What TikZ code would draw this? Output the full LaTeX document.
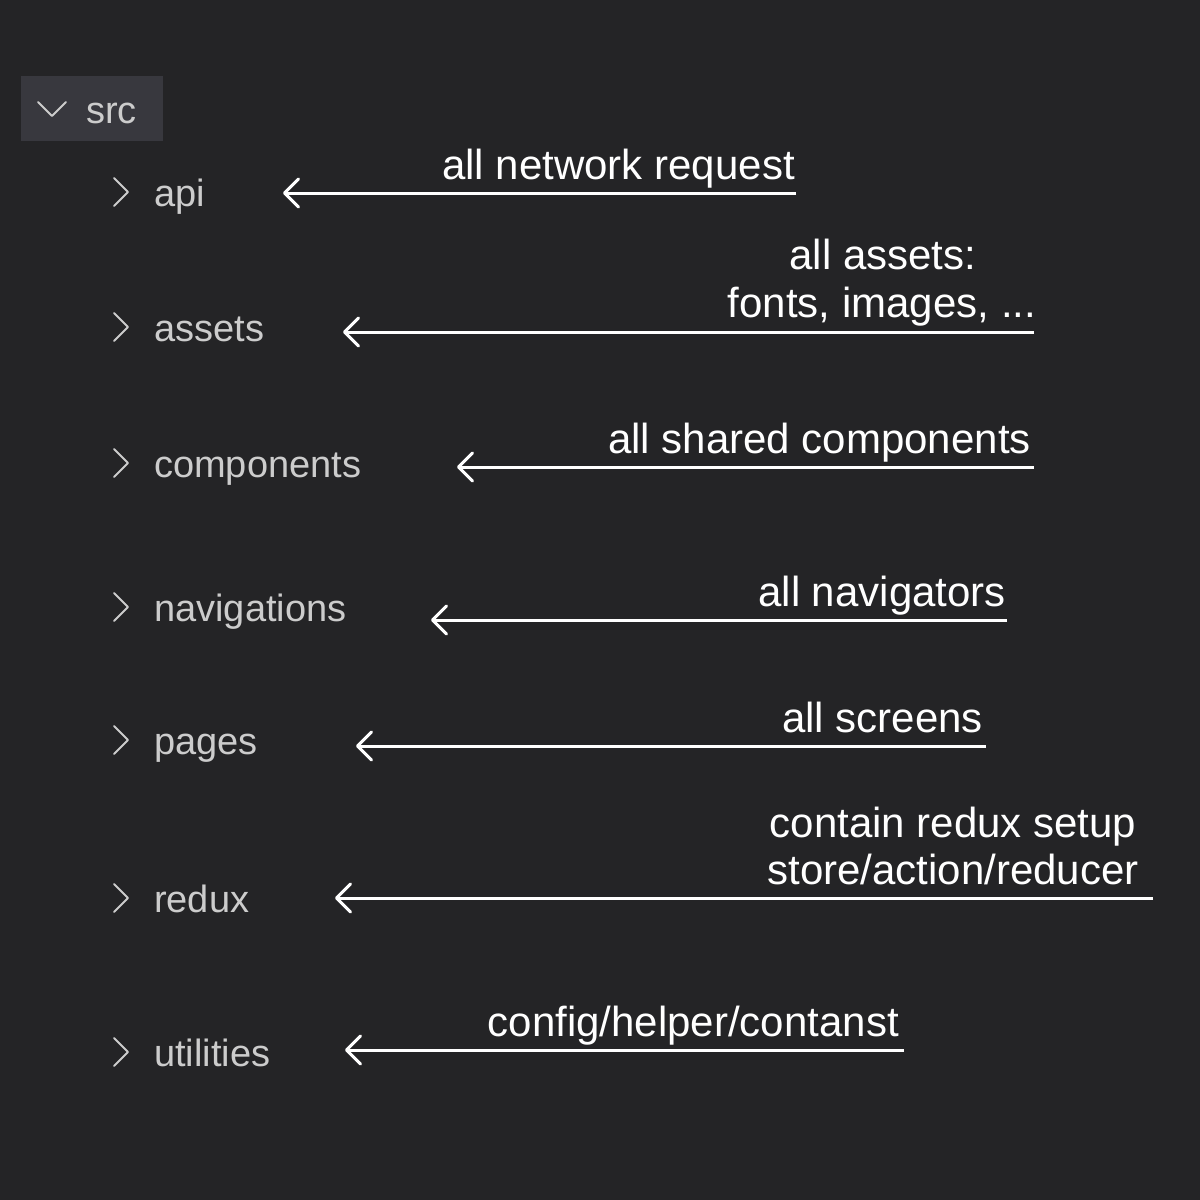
\documentclass[tikz,border=0pt]{standalone}
\usepackage{fontspec}
\setmainfont{Liberation Sans}
\usetikzlibrary{arrows.meta}
\definecolor{bg}{HTML}{242426}
\definecolor{srcbg}{HTML}{38383E}
\definecolor{fold}{HTML}{CCCCCC}
\begin{document}
\begin{tikzpicture}[x=1pt,y=-1pt,
  folder/.style={anchor=base west,inner sep=0pt,text=fold,font=\fontsize{38}{44}\selectfont},
  note/.style={anchor=base,inner sep=0pt,text=white,font=\fontsize{42}{48}\selectfont},
  noter/.style={note,anchor=base east},
  chev/.style={draw=fold,line width=2pt,line cap=round,line join=round},
  arr/.style={draw=white,line width=3pt,-{Straight Barb[length=14pt,width=28pt,round]}}]
\useasboundingbox (0,0) rectangle (1200,1200);
\fill[bg] (0,0) rectangle (1200,1200);
% src header
\fill[srcbg] (21,76) rectangle (163,141);
\draw[chev] (38,102) -- (52,116) -- (66,102);
\node[folder] (src) at (86,123) {src};
% folder rows
\foreach \name/\yy in {api/192,assets/327,components/463,navigations/607,pages/740,redux/898,utilities/1052}{
  \draw[chev] (114,\yy-14) -- (128,\yy) -- (114,\yy+14);
  \node[folder] (f-\name) at (154,\yy+14) {\name};
}
% notes
\node[noter] (n1) at (795,179) {all network request};
\node[note] (n2a) at (883,269) {all assets:};
\node[note] (n2b) at (882,317) {fonts, images, ...};
\node[noter] (n3) at (1031,453) {all shared components};
\node[noter] (n4) at (1006,606) {all navigators};
\node[noter] (n5) at (983,732) {all screens};
\node[note] (n6a) at (953,837) {contain redux setup};
\node[note] (n6b) at (953,884) {store/action/reducer};
\node[noter] (n7) at (899,1036) {config/helper/contanst};
% arrows
\coordinate (e1) at (796,193);  \coordinate (s1) at (283,193);
\coordinate (e2) at (1034,332); \coordinate (s2) at (343,332);
\coordinate (e3) at (1034,467); \coordinate (s3) at (457,467);
\coordinate (e4) at (1007,620); \coordinate (s4) at (431,620);
\coordinate (e5) at (986,746);  \coordinate (s5) at (356,746);
\coordinate (e6) at (1153,898); \coordinate (s6) at (335,898);
\coordinate (e7) at (904,1050); \coordinate (s7) at (345,1050);
\foreach \i in {1,...,7}{\draw[arr] (e\i) -- (s\i);}
\end{tikzpicture}
\end{document}
